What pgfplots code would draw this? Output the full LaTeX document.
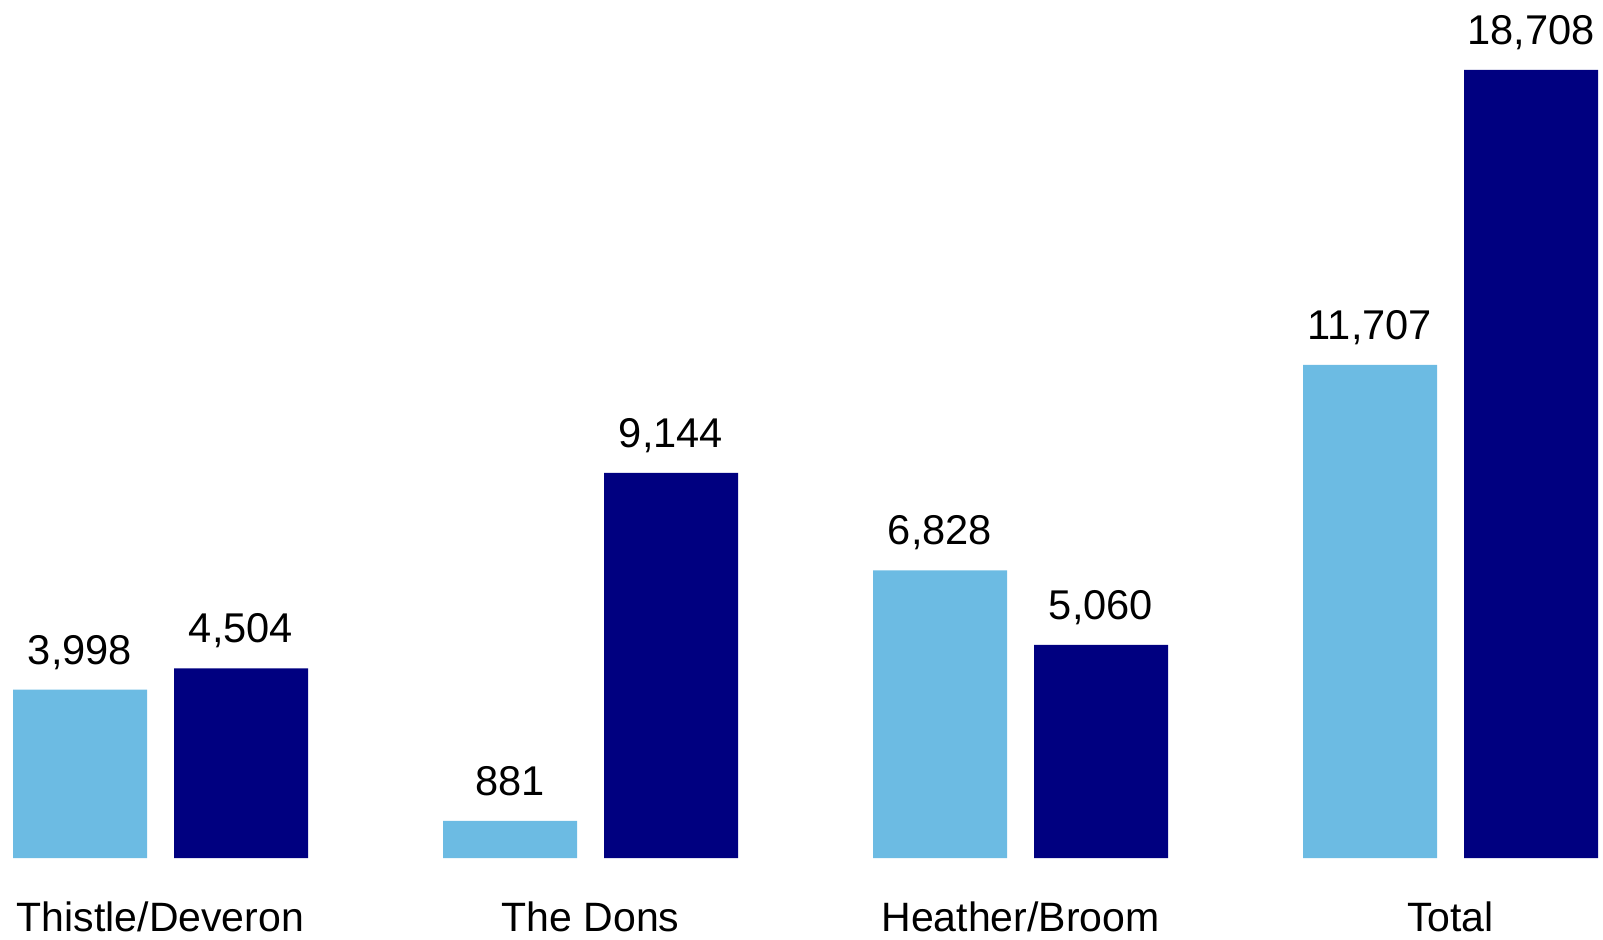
\documentclass[border=0pt]{standalone}
\usepackage{fontspec}
\setmainfont{Liberation Sans}
\usepackage{pgfplots}
\pgfplotsset{compat=1.18}
\definecolor{lightbar}{RGB}{108,187,227}
\definecolor{darkbar}{RGB}{0,0,128}
\begin{document}
\begin{tikzpicture}
\begin{axis}[
  scale only axis,
  width=801.5pt, height=469.5pt,
  xmin=-0.37326, xmax=3.35465,
  ymin=-1923, ymax=20370,
  enlargelimits=false,
  axis line style={draw=none},
  tick style={draw=none},
  ytick=\empty,
  xtick={0,1,2,3},
  xticklabels={Thistle/Deveron,The Dons,Heather/Broom,Total},
  xticklabel style={anchor=base, inner sep=0pt, yshift=8pt, font=\fontsize{20.5}{24}\selectfont},
  ybar,
  bar width=67pt,
  /pgf/number format/assume math mode=true,
  /pgf/number format/1000 sep={,},
  nodes near coords,
  every node near coord/.append style={anchor=base, inner sep=0pt, yshift=12.75pt, text=black, font=\fontsize{20.8}{24}\selectfont},
  clip=false,
]
\addplot[fill=lightbar, draw=none, bar shift=-40.25pt] coordinates {(0,3998) (1,881) (2,6828) (3,11707)};
\addplot[fill=darkbar, draw=none, bar shift=40.25pt] coordinates {(0,4504) (1,9144) (2,5060) (3,18708)};
\end{axis}
\pgfresetboundingbox
\path (current axis.south west) rectangle (current axis.north east);
\end{tikzpicture}
\end{document}
